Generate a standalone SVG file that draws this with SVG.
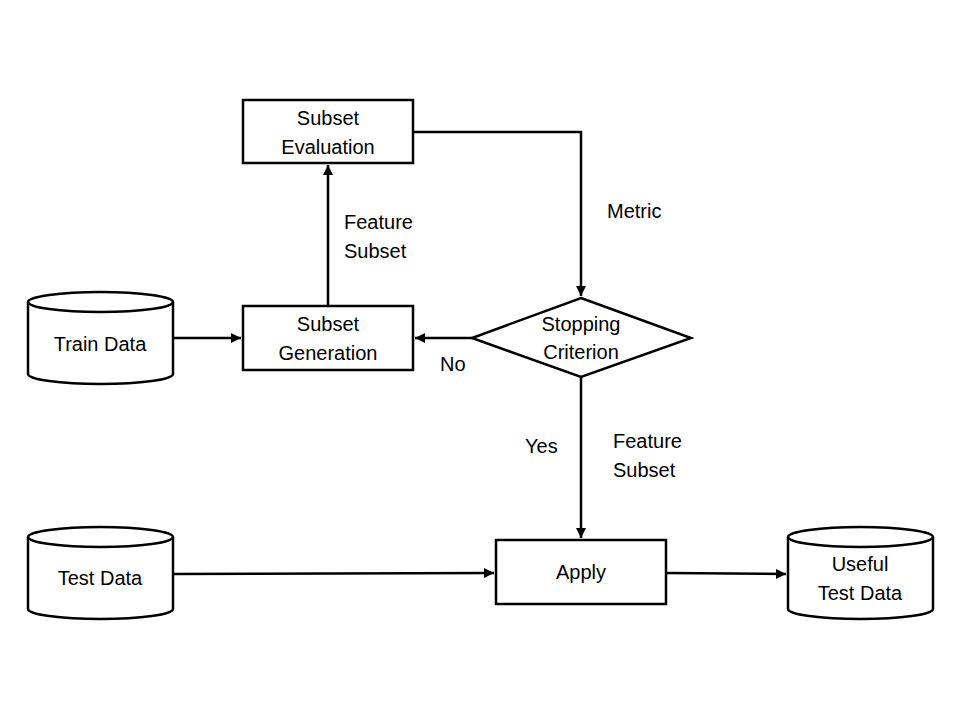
<svg xmlns="http://www.w3.org/2000/svg" width="960" height="720" viewBox="0 0 960 720">
<defs>
<style>
.n{fill:#fff;stroke:#000;stroke-width:2.5}
.t{font-family:"Liberation Sans",Arial,sans-serif;font-size:20px;fill:#000;text-anchor:middle}
.l{font-family:"Liberation Sans",Arial,sans-serif;font-size:20px;fill:#000}
.c{fill:none;stroke:#000;stroke-width:2.5}
</style>
<marker id="ah" viewBox="0 0 10 10" refX="10" refY="5" markerWidth="4" markerHeight="4" orient="auto" markerUnits="strokeWidth">
<path d="M0,0 L10,5 L0,10 z" fill="#000"/>
</marker>
</defs>
<rect width="960" height="720" fill="#fff"/>
<g id="connectors">
<path class="c" d="M173,338 H241" marker-end="url(#ah)"/>
<path class="c" d="M328,306 V165" marker-end="url(#ah)"/>
<path class="c" d="M413,132 H581 V296" marker-end="url(#ah)"/>
<path class="c" d="M472,338 H415" marker-end="url(#ah)"/>
<path class="c" d="M581,377 V538" marker-end="url(#ah)"/>
<path class="c" d="M173,574 L494,573" marker-end="url(#ah)"/>
<path class="c" d="M666,573 L786,574" marker-end="url(#ah)"/>
</g>
<g id="labels">
<text class="l" x="344" y="229">Feature</text>
<text class="l" x="344" y="258">Subset</text>
<text class="l" x="607" y="218">Metric</text>
<text class="l" x="440" y="371">No</text>
<text class="l" x="525" y="453">Yes</text>
<text class="l" x="613" y="448">Feature</text>
<text class="l" x="613" y="477">Subset</text>
</g>
<g id="subset-evaluation">
<rect class="n" x="243" y="100" width="170" height="63"/>
<text class="t" x="328" y="125">Subset</text>
<text class="t" x="328" y="154">Evaluation</text>
</g>
<g id="subset-generation">
<rect class="n" x="243" y="306" width="170" height="64"/>
<text class="t" x="328" y="331">Subset</text>
<text class="t" x="328" y="360">Generation</text>
</g>
<g id="train-data">
<path class="n" d="M28,302 A72.5,10 0 0 1 173,302 V374 A72.5,10 0 0 1 28,374 Z"/>
<path class="c" d="M28,302 A72.5,10 0 0 0 173,302"/>
<text class="t" x="100" y="351">Train Data</text>
</g>
<g id="stopping-criterion">
<polygon class="n" points="581,298 691,338 581,377 472,338"/>
<text class="t" x="581" y="331">Stopping</text>
<text class="t" x="581" y="359">Criterion</text>
</g>
<g id="apply">
<rect class="n" x="496" y="540" width="170" height="64"/>
<text class="t" x="581" y="579">Apply</text>
</g>
<g id="test-data">
<path class="n" d="M28,537 A72.5,10 0 0 1 173,537 V609 A72.5,10 0 0 1 28,609 Z"/>
<path class="c" d="M28,537 A72.5,10 0 0 0 173,537"/>
<text class="t" x="100" y="585">Test Data</text>
</g>
<g id="useful-test-data">
<path class="n" d="M788,537 A72.5,10 0 0 1 933,537 V609 A72.5,10 0 0 1 788,609 Z"/>
<path class="c" d="M788,537 A72.5,10 0 0 0 933,537"/>
<text class="t" x="860" y="571">Useful</text>
<text class="t" x="860" y="600">Test Data</text>
</g>
</svg>
